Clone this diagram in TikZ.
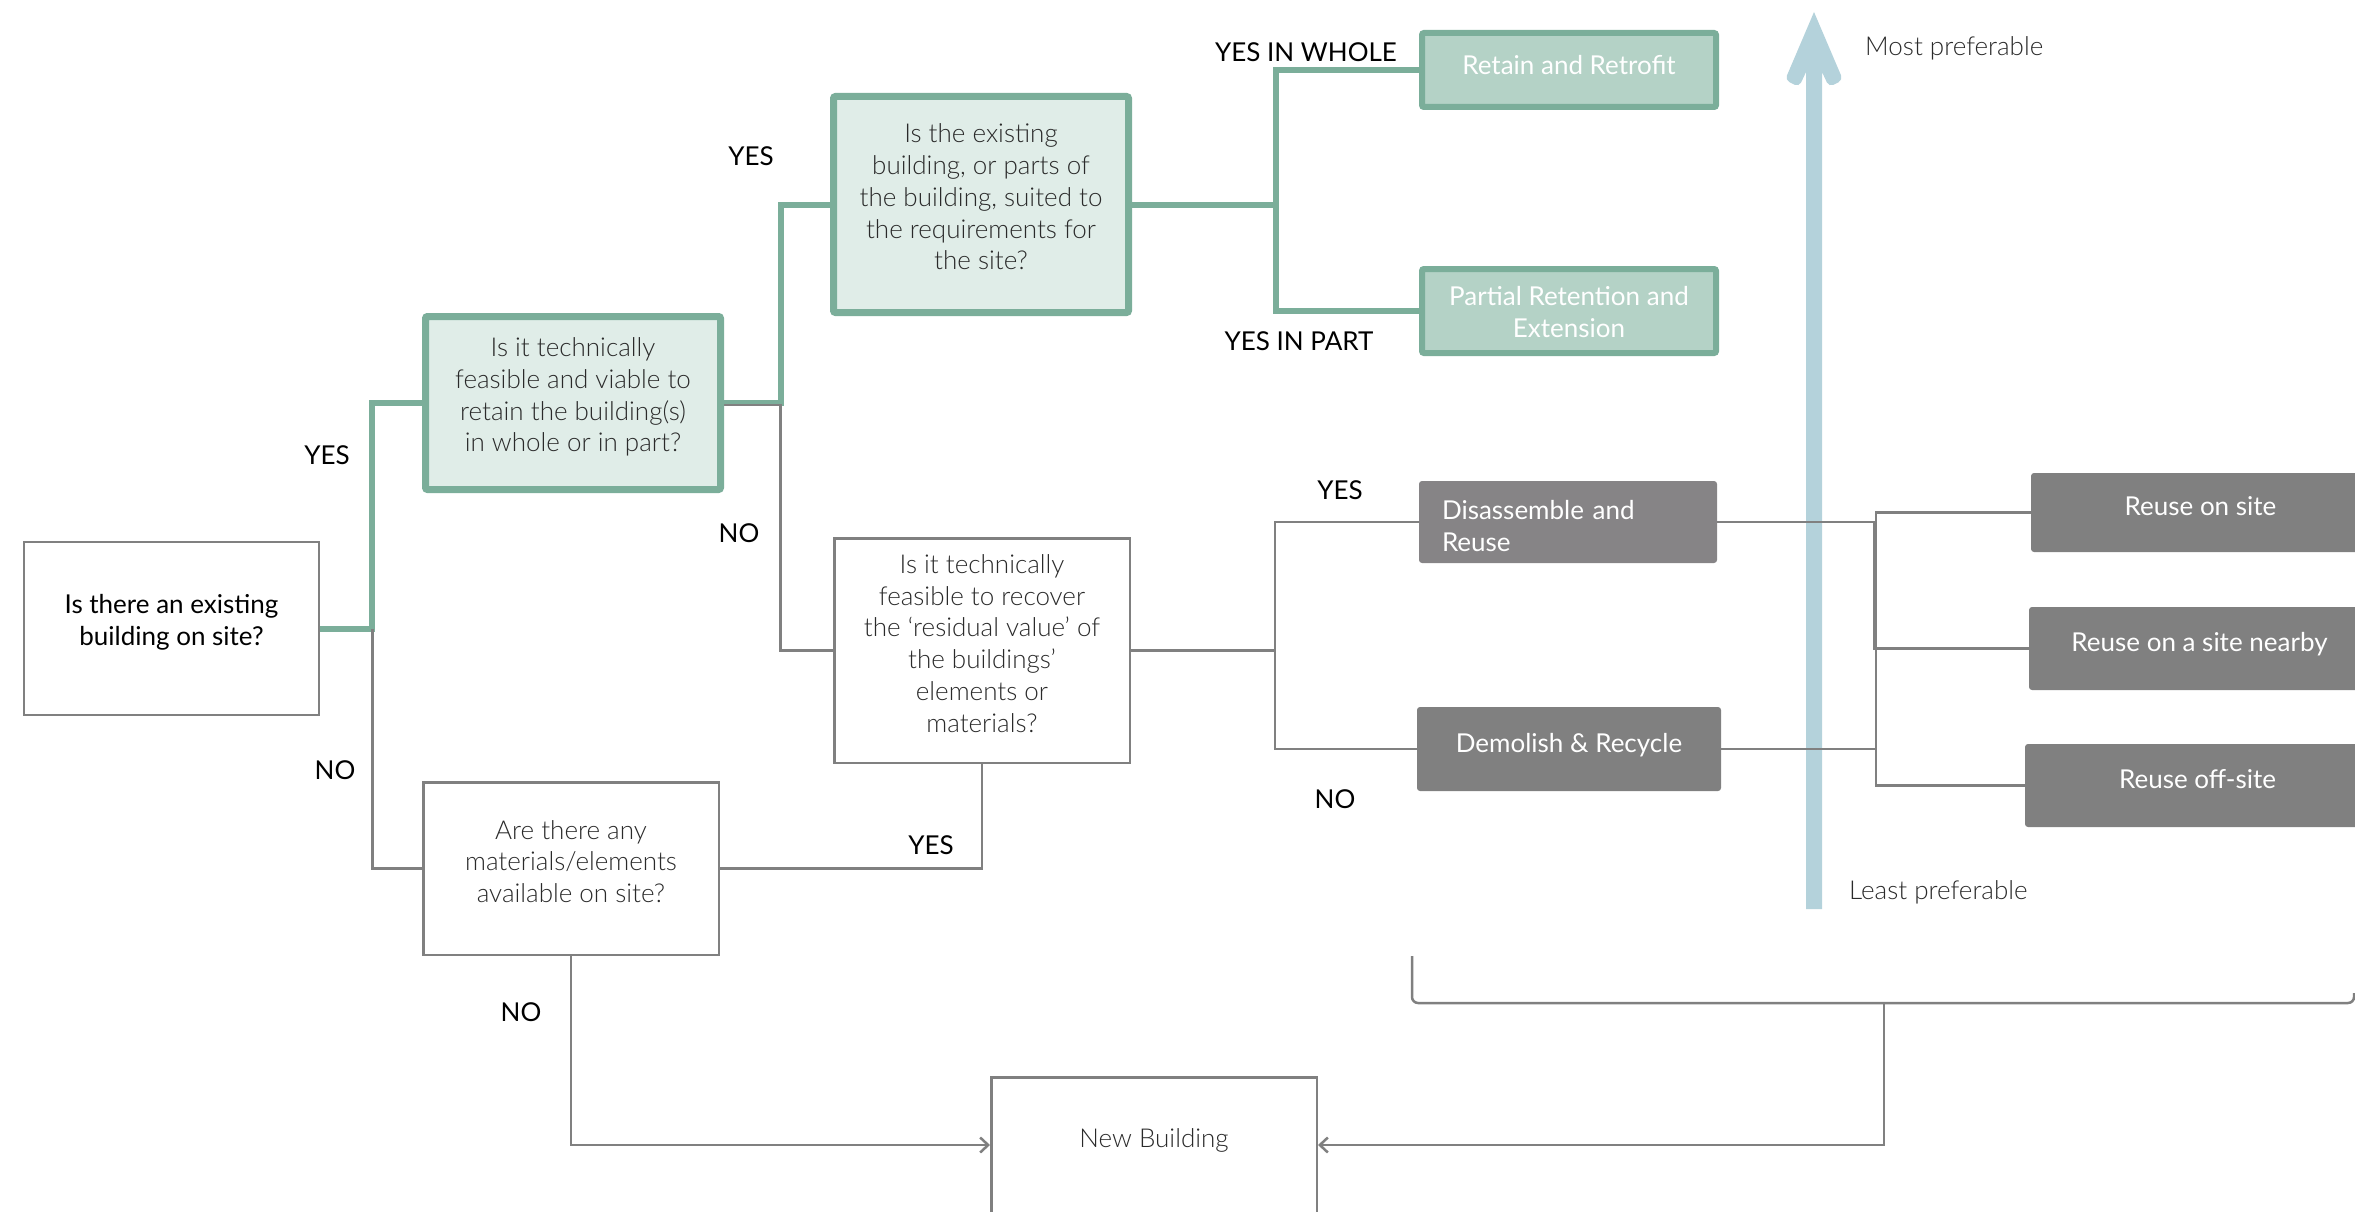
\documentclass[tikz,border=0pt]{standalone}
\usepackage{fontspec}
\setmainfont{Lato}
\newfontfamily\lightfont{Lato Light}
\usetikzlibrary{arrows.meta,backgrounds}

\definecolor{greenline}{HTML}{7BAE9A}
\definecolor{greenfill}{HTML}{E0EDE8}
\definecolor{greenbox}{HTML}{B4D2C6}
\definecolor{grayline}{HTML}{808080}
\definecolor{graybox}{HTML}{808080}
\definecolor{graybox2}{HTML}{868486}
\definecolor{arrowblue}{HTML}{B4D2DB}
\definecolor{bodytext}{HTML}{2A2A2A}

% centred lines of text, moved up (positive) or down (negative) in their box
\newcommand\liftedlines[2]{\raisebox{0pt}[\height][\dimexpr\depth+#1\relax]{%
  \begin{tabular}{@{}c@{}}#2\end{tabular}}}

\begin{document}
\begin{tikzpicture}[x=1pt,y=-1pt,
  lightsize/.style={font=\lightfont\fontsize{26}{31.7}\selectfont},
  regsize/.style={font=\fontsize{26}{31.7}\selectfont},
  question/.style={draw=grayline, line width=2.5pt, fill=white,
    text=bodytext, lightsize, inner sep=0pt},
  keyq/.style={question, draw=greenline, line width=7pt, fill=greenfill, rounded corners=2pt},
  retain/.style={draw=greenline, line width=6pt, fill=greenbox, text=white,
    regsize, inner sep=0pt, rounded corners=2pt},
  outcome/.style={fill=graybox, text=white, regsize, inner sep=0pt,
    rounded corners=3pt},
  answer/.style={text=black, regsize, inner sep=0pt},
  legend/.style={text=bodytext, lightsize, inner sep=0pt, anchor=west},
  greenpath/.style={draw=greenline, line width=6pt},
  graypath/.style={draw=grayline, line width=2.5pt},
  tip/.style={-{Straight Barb[length=8pt,width=15pt,line width=2.5pt]}}
]
\useasboundingbox (0,0) rectangle (2355,1212);

% decision boxes
\node[question, text=black, regsize, minimum width=295pt, minimum height=173pt] (q1) at (171.5,628.5)
  {\liftedlines{10pt}{Is there an existing\\building on site?}};
\node[keyq, minimum width=295pt, minimum height=173pt] (q2) at (573,403)
  {\liftedlines{10pt}{Is it technically\\feasible and viable to\\retain the building(s)\\in whole or in part?}};
\node[keyq, minimum width=295pt, minimum height=216pt] (q3) at (981,204.5)
  {\liftedlines{9pt}{Is the existing\\building, or parts of\\the building, suited to\\the requirements for\\the site?}};
\node[question, minimum width=295.5pt, minimum height=224.5pt] (q4) at (982,650.5)
  {\liftedlines{8pt}{Is it technically\\feasible to recover\\the ‘residual value’ of\\the buildings’\\elements or\\materials?}};
\node[question, minimum width=295.5pt, minimum height=172.5pt] (q5) at (571,868.5)
  {\liftedlines{8pt}{Are there any\\materials/elements\\available on site?}};
\node[question, minimum width=325.5pt, minimum height=135.5pt] (nb) at (1154,1145)
  {\liftedlines{8pt}{New Building}};

% retention outcomes
\node[retain, minimum width=294pt, minimum height=74pt] (r1) at (1569,70)
  {\liftedlines{3pt}{Retain and Retrofit}};
\node[retain, minimum width=294pt, minimum height=84pt] (r2) at (1569,311)
  {\liftedlines{-8pt}{Partial Retention and\\Extension}};

% recovery outcomes
\node[outcome, fill=graybox2, align=left, text width=252pt, minimum width=298pt, minimum height=82pt] (d1) at (1568,522)
  {\raisebox{0pt}[\dimexpr\height+14pt\relax][\depth]{%
    \begin{tabular}{@{}l@{}}Disassemble and\\Reuse\end{tabular}}};
\node[outcome, minimum width=304pt, minimum height=84pt] (d2) at (1569,749)
  {\liftedlines{6pt}{Demolish \& Recycle}};
\node[outcome, minimum width=339pt, minimum height=79pt] (u1) at (2200.5,512.5)
  {\liftedlines{6pt}{Reuse on site}};
\node[outcome, minimum width=341pt, minimum height=83pt] (u2) at (2199.5,648.5)
  {\liftedlines{6pt}{Reuse on a site nearby}};
\node[outcome, minimum width=345pt, minimum height=83pt] (u3) at (2197.5,785.5)
  {\liftedlines{7pt}{Reuse off-site}};

% answer labels
\node[answer] (a1) at (327,455) {YES};
\node[answer] (a2) at (335,770) {NO};
\node[answer] (a3) at (751,156) {YES};
\node[answer] (a4) at (739,533) {NO};
\node[answer] (a5) at (1306,52) {YES IN WHOLE};
\node[answer] (a6) at (1299,341) {YES IN PART};
\node[answer] (a7) at (1340,490) {YES};
\node[answer] (a8) at (1335,799) {NO};
\node[answer] (a9) at (931,845) {YES};
\node[answer] (a10) at (521,1012) {NO};

% preference scale labels
\node[legend] (most) at (1865,48) {Most preferable};
\node[legend] (least) at (1849,892) {Least preferable};

% junction points
\coordinate (jr) at (1276,204.5);
\coordinate (jd) at (1275,650.5);
\coordinate (fan) at (1876,648.5);
\coordinate (brL) at (1412,956);
\coordinate (brB) at (1884,1003);
\coordinate (brR) at (2354,993);

\begin{scope}[on background layer]
  % preference arrow
  \fill[arrowblue] (1806,909) -- (1806,72)
    [rounded corners=5pt] -- (1799,87) -- (1785,80)
    [sharp corners] -- (1814,12)
    [rounded corners=5pt] -- (1843,80) -- (1829,87)
    [sharp corners] -- (1822,72) -- (1822,909) -- cycle;

  % retention route
  \draw[greenpath] (q1.east) -- ++(52,0) |- (q2.west);
  \draw[greenpath] (q2.east) -- ++(56.5,0) |- (q3.west);
  \draw[greenpath] (q3.east) -- (jr);
  \draw[greenpath] (r1.west) -| (jr) |- (r2.west);

  % recovery route
  \draw[graypath] ([xshift=52pt]q1.east) |- (q5.west);
  \draw[graypath] ([yshift=-2pt]q2.east) -- ++(56.5,0) |- (q4.west);
  \draw[graypath] (q4.east) -- (jd);
  \draw[graypath] (d1.west) -| (jd) |- (d2.west);
  \draw[graypath] (d1.east) -- ++(157,0) |- (fan);
  \draw[graypath] (d2.east) -- ++(155,0) |- (fan);
  \draw[graypath] (u1.west) -| (fan) |- (u3.west);
  \draw[graypath] (u2.west) -- (fan);
  \draw[graypath] (q4.south) |- (q5.east);

  % routes to a new building
  \draw[graypath, tip] (q5.south) |- (nb.west);
  \draw[graypath, rounded corners=6pt] (brL) |- (brB) -| (brR);
  \draw[graypath, tip] (brB) |- (nb.east);
\end{scope}
\end{tikzpicture}
\end{document}
